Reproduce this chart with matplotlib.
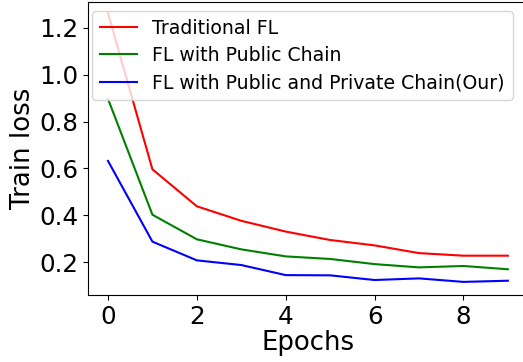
import matplotlib
matplotlib.use("Agg")
import matplotlib.pyplot as plt
import numpy as np

epochs = np.arange(10)
traditional_fl = [1.263, 0.596, 0.438, 0.376, 0.330, 0.294, 0.271, 0.238, 0.227, 0.227]
public_chain = [0.897, 0.402, 0.297, 0.254, 0.224, 0.213, 0.191, 0.177, 0.183, 0.169]
public_private_chain = [0.632, 0.287, 0.207, 0.187, 0.144, 0.143, 0.123, 0.130, 0.115, 0.120]

labels = ["Traditional FL", "FL with Public Chain", "FL with Public and Private Chain(Our)"]

fig = plt.figure(figsize=(5.23, 3.62), dpi=100)
ax = fig.add_axes([88 / 523, 1 - 295 / 362, 0.841, 0.8094])

ax.plot(epochs, traditional_fl, color="r", linewidth=1.5, label=labels[0])
ax.plot(epochs, public_chain, color="g", linewidth=1.5, label=labels[1])
ax.plot(epochs, public_private_chain, color="b", linewidth=1.5, label=labels[2])

ax.set_xlim(-0.45, 9.45)
ax.set_ylim(0.059, 1.311)
ax.set_xticks([0, 2, 4, 6, 8])
ax.set_yticks([0.2, 0.4, 0.6, 0.8, 1.0, 1.2])
ax.tick_params(labelsize=17.7)
ax.set_xlabel("Epochs", fontsize=18.7, labelpad=1)
ax.set_ylabel("Train loss", fontsize=18.7, labelpad=2)

ax.legend(loc="upper left", bbox_to_anchor=(92 / 523, 1 - 11 / 362),
          bbox_transform=fig.transFigure, fontsize=13.6, borderaxespad=0,
          labelspacing=0.45)

fig.savefig("out.png", dpi=100)
